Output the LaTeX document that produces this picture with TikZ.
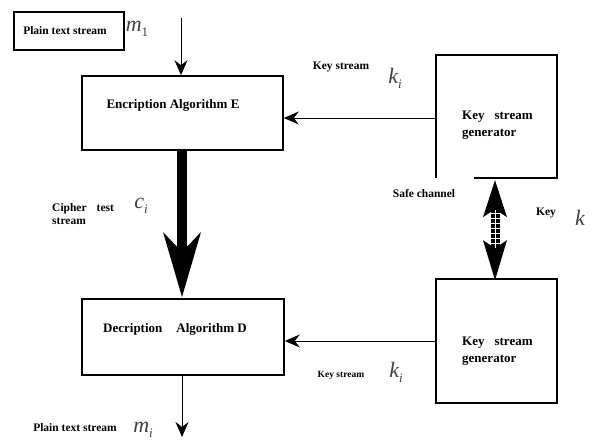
\documentclass[tikz,border=0pt]{standalone}
\usepackage{fontspec}
\setmainfont{Liberation Serif}
\usetikzlibrary{arrows.meta}
\newcommand{\symb}[2]{#1\raisebox{-0.22em}{\fontsize{13}{13}\selectfont #2}}
\begin{document}
\begin{tikzpicture}[x=1pt,y=-1pt,
  blk/.style={draw,line width=1.6pt,inner sep=0pt},
  frame/.style={inner sep=0pt},
  lbl/.style={font=\bfseries\fontsize{11.5}{13}\selectfont,inner sep=0pt},
  boxtxt/.style={font=\bfseries\fontsize{13}{17}\selectfont,inner sep=0pt,align=left},
  sym/.style={font=\itshape\fontsize{22}{22}\selectfont,text=black!75,inner sep=0pt},
  flow/.style={line width=1pt,-{Stealth[length=15pt,width=13pt,inset=5pt]}},
]
\useasboundingbox[fill=white] (0,0) rectangle (596,439);

% source text box
\node[blk,minimum width=110pt,minimum height=38pt] (src) at (69,31) {};
\node[lbl] (srctxt) at (65,31) {Plain text stream};
\node[sym] (m1) at (137,29) {\symb{m}{\upshape 1}};

% encryption and decryption blocks
\node[blk,minimum width=201pt,minimum height=74pt] (enc) at (182.5,113) {};
\node[boxtxt] (enctxt) at (173,105) {Encription Algorithm E};
\node[blk,minimum width=202pt,minimum height=76pt] (dec) at (183,337) {};
\node[boxtxt] (dectxt) at (175,329) {Decription\hspace{14pt}Algorithm D};

% key stream generators
\node[frame,minimum width=121pt,minimum height=123pt] (kg1) at (496.5,116.5) {};
\draw[line width=1.6pt] ([xshift=38pt]kg1.south west) -- (kg1.south east)
  -- (kg1.north east) -- (kg1.north west) -- (kg1.south west);
\node[boxtxt,anchor=west] (kg1txt) at (462,125) {Key\hspace{10pt}stream\\generator};
\node[blk,minimum width=121pt,minimum height=124pt] (kg2) at (496.5,341) {};
\node[boxtxt,anchor=west] (kg2txt) at (462,351) {Key\hspace{10pt}stream\\generator};

% plain flow
\coordinate (in) at (181,18);
\coordinate (out) at (182,437);
\draw[flow] (in) -- (in |- enc.north);
\draw[flow] (dec.south -| out) -- (out);
\draw[flow] (kg1.west |- 0,118) -- (enc.east |- 0,118);
\draw[flow] (kg2.west) -- (dec.east |- kg2.west);

% cipher text stream: heavy arrow
\coordinate (ct) at (182,150);
\coordinate (ch) at (182,297);
\fill ([xshift=-5pt]ct) rectangle ([xshift=5pt,yshift=42pt]ch);
\fill ([xshift=-19pt,yshift=65pt]ch) -- (ch) -- ([xshift=19pt,yshift=65pt]ch)
  .. controls ([xshift=10pt,yshift=55pt]ch) .. ([yshift=45pt]ch)
  .. controls ([xshift=-10pt,yshift=55pt]ch) .. cycle;

% safe channel: double arrow with a chequered shaft
\coordinate (sa) at ([xshift=-1.5pt,yshift=-2pt]kg1.south);
\coordinate (sb) at ([xshift=-1.5pt,yshift=-2pt]kg2.north);
\fill ([xshift=-4.5pt,yshift=-28pt]sa) rectangle ([xshift=4.5pt,yshift=30pt]sb);
\fill (sa) -- ([xshift=12pt,yshift=-37pt]sa) -- ([yshift=-29pt]sa)
  -- ([xshift=-12pt,yshift=-37pt]sa) -- cycle;
\fill (sb) -- ([xshift=12pt,yshift=40pt]sb) -- ([yshift=32pt]sb)
  -- ([xshift=-12pt,yshift=40pt]sb) -- cycle;
\draw[white,line width=0.9pt] ([yshift=-30pt]sa) -- ([yshift=32pt]sb);
\foreach \d in {33,38,43,48,53,58,63}
  \draw[white,line width=0.9pt] ([xshift=-5pt,yshift=-\d pt]sa) -- ([xshift=5pt,yshift=-\d pt]sa);

% labels
\node[lbl] (ks1) at (341,67) {Key stream};
\node[sym] (ki1) at (395,78) {\symb{k}{i}};
\node[lbl,align=left,anchor=west] (cts) at (52,214) {Cipher\hspace{10pt}test\\stream};
\node[sym] (ci) at (141,206) {\symb{c}{i}};
\node[lbl] (safe) at (424,194) {Safe channel};
\node[lbl] (key) at (546,213) {Key};
\node[sym] (k) at (580,218) {k};
\node[font=\bfseries\fontsize{9.5}{11}\selectfont,inner sep=0pt] (ks2) at (341,375) {Key stream};
\node[sym] (ki2) at (396,372) {\symb{k}{i}};
\node[lbl] (outtxt) at (75,428) {Plain text stream};
\node[sym] (mi) at (143,430) {\symb{m}{i}};
\end{tikzpicture}
\end{document}
